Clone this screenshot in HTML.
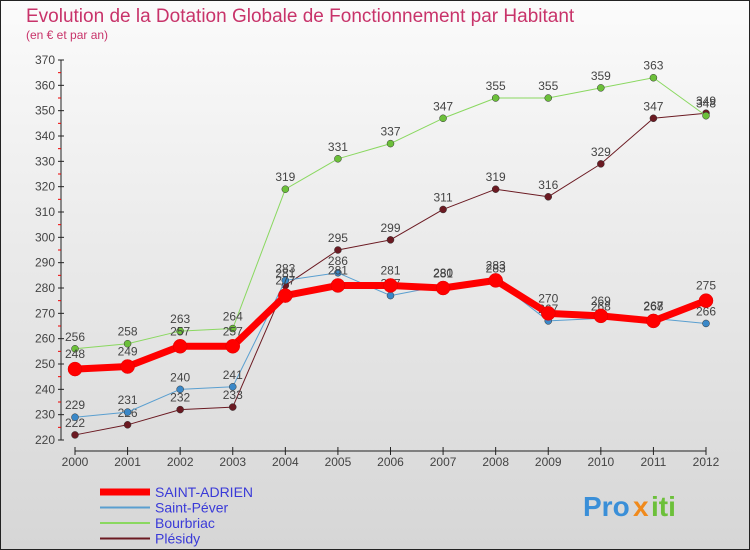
<!DOCTYPE html>
<html><head><meta charset="utf-8"><style>
body{margin:0;width:750px;height:550px;overflow:hidden;font-family:"Liberation Sans","DejaVu Sans",sans-serif}
svg{display:block}
</style></head><body>
<svg width="750" height="550">
<defs><linearGradient id="bg" x1="0" y1="0" x2="0" y2="1"><stop offset="0" stop-color="#fbfbfb"/><stop offset="1" stop-color="#d6d6d6"/></linearGradient></defs>
<rect x="0.5" y="0.5" width="749" height="549" fill="url(#bg)" stroke="#222"/>
<text x="26" y="22" font-size="19" fill="#c8336a">Evolution de la Dotation Globale de Fonctionnement par Habitant</text>
<text x="26" y="39" font-size="12" fill="#c8336a">(en € et par an)</text>
<g id="axes"></g>
<g id="series"></g>
<g id="legend"></g>
<g font-size="28" font-weight="bold">
<text x="583" y="516" fill="#3a8fd8">Pro</text><text x="633" y="516" fill="#f08a1c">x</text><text x="651" y="516" fill="#6cc03a">iti</text>
</g>
</svg>
<script>
const years=[2000,2001,2002,2003,2004,2005,2006,2007,2008,2009,2010,2011,2012];
const yTicks=[220,230,240,250,260,270,280,290,300,310,320,330,340,350,360,370];
const adrien=[248,249,257,257,277,281,281,280,283,270,269,267,275];
const pever=[229,231,240,241,283,286,277,281,283,267,268,268,266];
const bourbriac=[256,258,263,264,319,331,337,347,355,355,359,363,348];
const plesidy=[222,226,232,233,281,295,299,311,319,316,329,347,349];
const NS="http://www.w3.org/2000/svg";
function X(i){return 75+i*(706-75)/12;}
function Y(v){return 440-(v-220)*(380/150);}
function mk(p,t,a){const e=document.createElementNS(NS,t);for(const k in a)e.setAttribute(k,a[k]);p.appendChild(e);return e;}
const ax=document.getElementById('axes');
let yl=mk(ax,'line',{x1:61,y1:Y(370),x2:61,y2:Y(220),stroke:'#222'});


yTicks.forEach(v=>{
 mk(ax,'line',{x1:58,y1:Y(v),x2:64,y2:Y(v),stroke:'#222'});
 if(v<370)mk(ax,'line',{x1:58,y1:Y(v+5),x2:61,y2:Y(v+5),stroke:'#e00'});
 const t=mk(ax,'text',{x:55,y:Y(v)+4,'text-anchor':'end','font-size':12,fill:'#444'});t.textContent=v;
 
 
});
let xl=mk(ax,'line',{x1:X(0),y1:451,x2:X(12),y2:451,stroke:'#222'});


years.forEach((y,i)=>{
 mk(ax,'line',{x1:X(i),y1:447,x2:X(i),y2:455,stroke:'#222'});
 const t=mk(ax,'text',{x:X(i),y:466,'text-anchor':'middle','font-size':12,fill:'#444'});t.textContent=y;
 
 
});
const sg=document.getElementById('series');
const series=[
 {n:'plesidy',d:plesidy,c:'#6b1a22',w:1,r:3.5},
 {n:'bourbriac',d:bourbriac,c:'#8ad860',w:1,r:3.5,dot:'#6cc03a'},
 {n:'saint-pever',d:pever,c:'#5a9fd0',w:1,r:3.5,dot:'#3a88c8'},
 {n:'saint-adrien',d:adrien,c:'#f00',w:7,r:7}
];
series.forEach(s=>{
 const g=mk(sg,'g',{});
 
 
 const pl=mk(g,'polyline',{points:s.d.map((v,i)=>X(i)+','+Y(v)).join(' '),fill:'none',stroke:s.c,'stroke-width':s.w,'stroke-linejoin':'round'});
 
 
 s.d.forEach((v,i)=>{
  const c=mk(g,'circle',{cx:X(i),cy:Y(v),r:s.r,fill:s.dot||s.c,stroke:s.n==='saint-adrien'?'#d00':'#333','stroke-width':0.5});
  
  
  const t=mk(g,'text',{x:X(i),y:Y(v)-(s.n==='saint-adrien'?11:8),'text-anchor':'middle','font-size':12,fill:'#444'});t.textContent=v;
  
  
 });
});
const lg=document.getElementById('legend');
const items=[['SAINT-ADRIEN','#f00',7,'#3a3ad8'],['Saint-Péver','#5a9fd0',2,'#3a3ad8'],['Bourbriac','#8ad860',2,'#3a3ad8'],['Plésidy','#6b1a22',2,'#3a3ad8']];
items.forEach((it,k)=>{
 const y=492+k*15.5;
 const g=mk(lg,'g',{});
 
 
 mk(g,'line',{x1:100,y1:y,x2:150,y2:y,stroke:it[1],'stroke-width':it[2]});
 const t=mk(g,'text',{x:155,y:y+5,'font-size':14,fill:it[3]});t.textContent=it[0];
});
</script>
</body></html>
